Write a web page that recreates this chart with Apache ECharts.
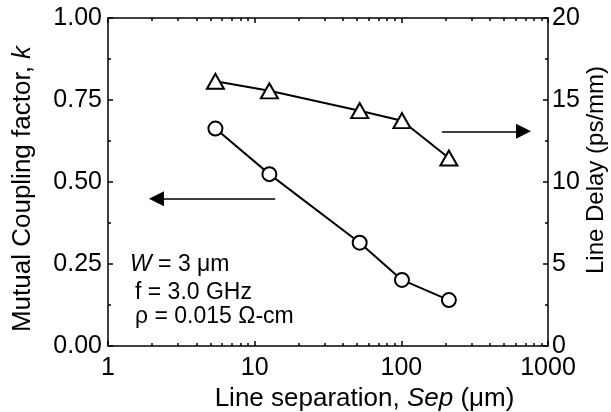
<!DOCTYPE html>
<html>
<head>
<meta charset="utf-8">
<script src="https://cdn.jsdelivr.net/npm/echarts@6/dist/echarts.min.js"></script>
<style>
  html, body { margin: 0; padding: 0; background: #fff; }
  #main { width: 611px; height: 412px; }
</style>
</head>
<body>
<div id="main"></div>
<script>
// values
const separation = [5.4, 12.6, 52, 101, 211];          // µm
const couplingK = [0.663, 0.524, 0.315, 0.2015, 0.140]; // left axis
const lineDelay = [16.14, 15.56, 14.35, 13.74, 11.46];  // ps/mm, right axis
const xMajorTicks = [1, 10, 100, 1000];
const xMinorTicks = [2, 3, 4, 5, 6, 7, 8, 9, 20, 30, 40, 50, 60, 70, 80, 90, 200, 300, 400, 500, 600, 700, 800, 900];
const notes = ['{i|W} = 3 μm', 'f = 3.0 GHz', 'ρ = 0.015 Ω-cm'];

const FONT = '"Liberation Sans", Arial, sans-serif';
const BLACK = '#000';

const txt = (size, extra) => Object.assign({ fontFamily: FONT, fontSize: size, color: BLACK }, extra || {});
const italic = size => txt(size, { fontStyle: 'italic' });

// one log axis per tick set / side (majors + minors differ in length)
function logAxis(position, ticks, len, withLine) {
  return {
    type: 'log', logBase: 10, min: 1, max: 1000, position: position,
    axisLine: { show: withLine, onZero: false, lineStyle: { color: BLACK, width: 1.5 } },
    axisTick: { show: true, inside: true, length: len, customValues: ticks, lineStyle: { color: BLACK, width: 1.5 } },
    axisLabel: { show: false },
    splitLine: { show: false },
    minorTick: { show: false }
  };
}

const xBottom = logAxis('bottom', xMajorTicks, 5, true);
xBottom.axisLabel = { show: true, margin: 10, formatter: v => String(v), ...txt(25) };
xBottom.name = 'Line separation, {i|Sep} (μm)';
xBottom.nameLocation = 'middle';
xBottom.nameGap = 34;
xBottom.nameTextStyle = { ...txt(26), padding: [0, 0, 0, 73], rich: { i: italic(26) } };

const myChart = echarts.init(document.getElementById('main'), null, { renderer: 'canvas' });

myChart.setOption({
  animation: false,
  backgroundColor: '#fff',
  grid: { left: 108, right: 63, top: 18, bottom: 66, containLabel: false, outerBoundsMode: 'none' },
  xAxis: [
    xBottom,
    logAxis('bottom', xMinorTicks, 3, false),
    logAxis('top', xMajorTicks, 5, true),
    logAxis('top', xMinorTicks, 3, false)
  ],
  yAxis: [
    {
      type: 'value', position: 'left', min: 0, max: 1, interval: 0.25,
      axisLine: { show: true, lineStyle: { color: BLACK, width: 1.5 } },
      axisTick: { show: true, inside: true, length: 5, lineStyle: { color: BLACK, width: 1.5 } },
      minorTick: { show: true, splitNumber: 2, length: 3, lineStyle: { color: BLACK, width: 1.5 } },
      splitLine: { show: false },
      axisLabel: { margin: 6, formatter: v => v.toFixed(2), ...txt(25) },
      name: 'Mutual Coupling factor, {i|k}',
      nameLocation: 'middle', nameRotate: 90, nameGap: 72,
      nameTextStyle: { ...txt(26), padding: [0, 14, 0, 0], rich: { i: italic(26) } }
    },
    {
      type: 'value', position: 'right', min: 0, max: 20, interval: 5,
      axisLine: { show: true, lineStyle: { color: BLACK, width: 1.5 } },
      axisTick: { show: true, inside: true, length: 5, lineStyle: { color: BLACK, width: 1.5 } },
      minorTick: { show: true, splitNumber: 2, length: 3, lineStyle: { color: BLACK, width: 1.5 } },
      splitLine: { show: false },
      axisLabel: { margin: 4, ...txt(25) },
      name: 'Line Delay (ps/mm)',
      nameLocation: 'middle', nameRotate: 90, nameGap: 36, nameMoveOverlap: false,
      nameTextStyle: { ...txt(24), padding: [0, 0, 0, 24] }
    }
  ],
  graphic: notes.map((t, i) => ({
    type: 'text',
    x: i === 0 ? 130 : 135,
    y: [265, 293, 317][i],
    silent: true,
    style: {
      text: t, verticalAlign: 'middle', align: 'left',
      fontFamily: FONT, fontSize: 23, fill: BLACK,
      rich: { i: { fontFamily: FONT, fontSize: 23, fontStyle: 'italic', fill: BLACK } }
    }
  })),
  series: [
    {
      name: 'k', type: 'line', xAxisIndex: 0, yAxisIndex: 0,
      data: separation.map((s, i) => [s, couplingK[i]]),
      symbol: 'circle', symbolSize: 14,
      itemStyle: { color: '#fff', borderColor: BLACK, borderWidth: 2 },
      lineStyle: { color: BLACK, width: 2 },
      markLine: {
        silent: true, symbol: ['none', 'triangle'], symbolSize: 15,
        label: { show: false },
        lineStyle: { color: BLACK, width: 1.5, type: 'solid' },
        data: [[{ coord: [13.8, 0.449] }, { coord: [2.14, 0.449] }]]
      }
    },
    {
      name: 'delay', type: 'line', xAxisIndex: 0, yAxisIndex: 1,
      data: separation.map((s, i) => [s, lineDelay[i]]),
      symbol: 'triangle', symbolSize: [17, 15],
      itemStyle: { color: '#fff', borderColor: BLACK, borderWidth: 2 },
      lineStyle: { color: BLACK, width: 2 },
      markLine: {
        silent: true, symbol: ['none', 'triangle'], symbolSize: 15,
        label: { show: false },
        lineStyle: { color: BLACK, width: 1.5, type: 'solid' },
        data: [[{ coord: [189, 13.09] }, { coord: [681, 13.09] }]]
      }
    }
  ]
});
</script>
</body>
</html>
